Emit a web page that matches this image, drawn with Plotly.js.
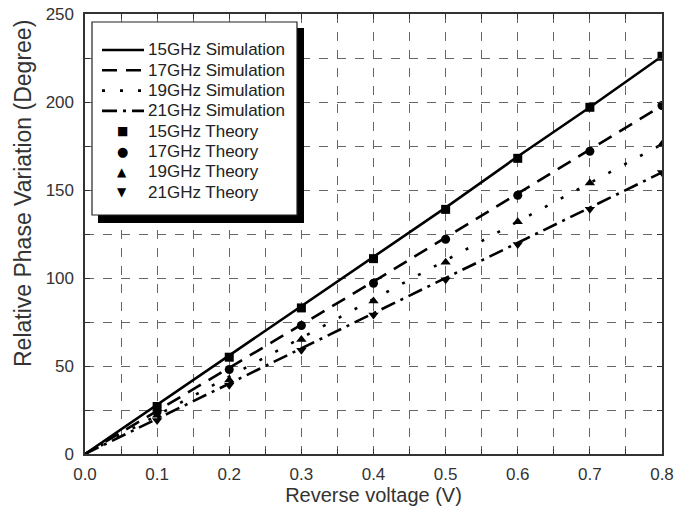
<!DOCTYPE html>
<html>
<head>
<meta charset="utf-8">
<script src="https://cdn.plot.ly/plotly-3.0.1.min.js"></script>
<style>html,body{margin:0;padding:0;background:#fff;}#chart{width:678px;height:511px;}</style>
</head>
<body>
<div id="chart"></div>
<script>
var voltSim = [0, 0.1, 0.2, 0.3, 0.4, 0.5, 0.6, 0.7, 0.8];
var sim15 = [0, 28, 56, 84, 112, 140, 169, 197, 226];
var sim17 = [0, 24.5, 49, 73.5, 98, 123, 148, 173, 198];
var sim19 = [0, 22, 44, 66, 88, 110, 132, 154, 176];
var sim21 = [0, 20, 40, 60, 80, 100, 120, 140, 160];

var voltTh = [0.1, 0.2, 0.3, 0.4, 0.5, 0.6, 0.7, 0.8];
var th15 = [27, 55, 83, 111, 139, 168, 197, 226];
var th17 = [24, 48, 73, 97, 122, 147, 172, 198];
var th19 = [22, 42, 65, 87, 109, 132, 154, 176];
var th21 = [19, 39, 59, 79, 99, 119, 139, 160];

var simNames = ['15GHz Simulation', '17GHz Simulation', '19GHz Simulation', '21GHz Simulation'];
var thNames = ['15GHz Theory', '17GHz Theory', '19GHz Theory', '21GHz Theory'];
var xTickVals = [0, 0.1, 0.2, 0.3, 0.4, 0.5, 0.6, 0.7, 0.8];
var yTickVals = [0, 50, 100, 150, 200, 250];
var xTitle = 'Reverse voltage (V)';
var yTitle = 'Relative Phase Variation (Degree)';

var dashes = ['solid', '15px,9px', '3px,15px', '15px,6px,3px,6px'];
var symbols = ['square', 'circle', 'triangle-up', 'triangle-down'];
var glyphs = ['\u25A0', '\u25CF', '\u25B2', '\u25BC'];
var glyphSizes = [12, 13, 12, 12];
var simData = [sim15, sim17, sim19, sim21];
var thData = [th15, th17, th19, th21];

var traces = [];
for (var i = 0; i < 4; i++) {
  traces.push({x: voltSim, y: simData[i], name: simNames[i], mode: 'lines', type: 'scatter',
    line: {color: '#000', width: 2.6, dash: dashes[i]}});
}
for (var j = 0; j < 4; j++) {
  traces.push({x: voltTh, y: thData[j], name: thNames[j], mode: 'markers', type: 'scatter',
    marker: {color: '#000', size: 9, symbol: symbols[j]}});
}

// pixel -> paper helpers (figure 678x511, margins l85 r16 t14 b57)
var M = {l: 85, r: 16, t: 14, b: 57};
var W = 678 - M.l - M.r, H = 511 - M.t - M.b;
function PX(p) { return (p - M.l) / W; }
function PY(p) { return 1 - (p - M.t) / H; }

var font = 'Liberation Sans, Arial, sans-serif';
var shapes = [];
var annotations = [];

// legend shadow + box
shapes.push({type: 'rect', xref: 'paper', yref: 'paper', layer: 'above',
  x0: PX(98), x1: PX(304), y0: PY(223), y1: PY(28), fillcolor: '#000', line: {width: 0}});
shapes.push({type: 'rect', xref: 'paper', yref: 'paper', layer: 'above',
  x0: PX(92), x1: PX(297), y0: PY(215), y1: PY(22), fillcolor: '#fff', line: {color: '#222', width: 1.2}});

var allNames = simNames.concat(thNames);
for (var k = 0; k < 8; k++) {
  var rowY = 50 + 20.3 * k;
  if (k < 4) {
    shapes.push({type: 'line', xref: 'paper', yref: 'paper', layer: 'above',
      x0: PX(102), x1: PX(144), y0: PY(rowY), y1: PY(rowY),
      line: {color: '#000', width: 2.6, dash: dashes[k]}});
  } else {
    annotations.push({xref: 'paper', yref: 'paper', x: PX(122), y: PY(rowY), xanchor: 'center', yanchor: 'middle',
      text: glyphs[k - 4], showarrow: false, font: {family: 'DejaVu Sans', size: glyphSizes[k - 4], color: '#000'}});
  }
  annotations.push({xref: 'paper', yref: 'paper', x: PX(146), y: PY(rowY), xanchor: 'left', yanchor: 'middle',
    text: allNames[k], showarrow: false, font: {family: font, size: 17, color: '#222'}});
}

// y-axis title (placed as in reference, above centre)
annotations.push({xref: 'paper', yref: 'paper', x: PX(23), y: PY(194), xanchor: 'center', yanchor: 'middle',
  text: yTitle, textangle: -90, showarrow: false, font: {family: font, size: 23, color: '#333'}});

var axisCommon = {
  showline: true, linecolor: '#333', linewidth: 1.6, mirror: 'ticks',
  ticks: 'inside', ticklen: 5, tickcolor: '#333', tickwidth: 1,
  showgrid: true, gridcolor: '#666', gridwidth: 1, griddash: 'dash',
  zeroline: false,
  tickfont: {family: font, size: 17, color: '#333'}
};

var layout = {
  width: 678, height: 511,
  margin: M,
  paper_bgcolor: '#fff', plot_bgcolor: '#fff',
  showlegend: false,
  shapes: shapes,
  annotations: annotations,
  xaxis: Object.assign({}, axisCommon, {
    range: [0, 0.8], tickvals: xTickVals, tickformat: '.1f', ticklabelstandoff: 4,
    minor: {dtick: 0.05, showgrid: true, gridcolor: '#666', griddash: 'dash', ticks: 'inside', ticklen: 5, tickcolor: '#333'},
    title: {text: xTitle, standoff: 4, font: {family: font, size: 20, color: '#333'}}
  }),
  yaxis: Object.assign({}, axisCommon, {
    range: [0, 250], tickvals: yTickVals, ticklabelstandoff: 6,
    minor: {dtick: 25, showgrid: true, gridcolor: '#666', griddash: 'dash', ticks: 'inside', ticklen: 5, tickcolor: '#333'}
  })
};

Plotly.newPlot('chart', traces, layout, {displayModeBar: false, staticPlot: true});
</script>
</body>
</html>
